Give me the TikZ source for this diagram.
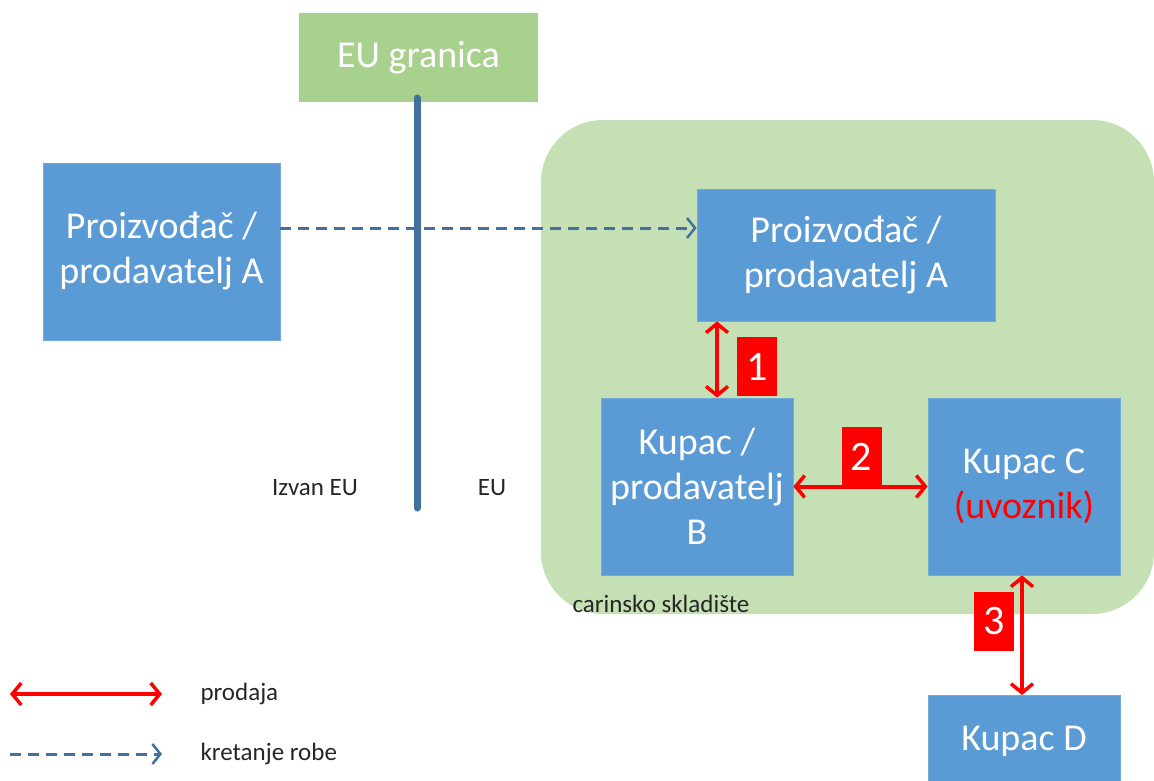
\documentclass[tikz,border=0pt]{standalone}
\usepackage{fontspec}
\setmainfont{Carlito}
\usetikzlibrary{arrows.meta}
\definecolor{boxblue}{HTML}{5B9BD5}
\definecolor{eugreen}{HTML}{A9D18E}
\definecolor{zonegreen}{HTML}{C5E0B4}
\definecolor{borderline}{HTML}{41719C}
\definecolor{salered}{HTML}{FF0000}
\tikzset{
  party/.style={fill=boxblue, draw=boxblue!85!white, line width=0.8pt, text=white, align=center,
    font=\fontsize{38}{45}\selectfont, inner sep=0pt},
  numtag/.style={fill=salered, text=white, minimum width=40pt, minimum height=59pt, inner sep=0pt,
    font=\fontsize{42}{48}\selectfont},
  sale/.style={draw=salered, line width=4pt, {Straight Barb[length=9pt,width=22pt,line width=3.5pt]}-{Straight Barb[length=9pt,width=22pt,line width=3.5pt]}},
  goods/.style={draw=borderline, line width=3pt, dash pattern=on 11pt off 7pt, -{Straight Barb[length=8pt,width=20pt,line width=2.5pt]}},
  small/.style={font=\fontsize{25}{30}\selectfont, text=black!85},
}
\begin{document}
\begin{tikzpicture}[x=1pt,y=-1pt]
\useasboundingbox (0,0) rectangle (1154,780);
% customs warehouse zone
\fill[zonegreen, rounded corners=62pt] (541,120) rectangle (1154,614);
% border label and border line
\node[fill=eugreen, minimum width=239pt, minimum height=89pt, inner sep=0pt, text=white,
  font=\fontsize{38}{45}\selectfont] (granica) at (418.5,57.5) {EU granica};
\coordinate (lineTop) at (417,98);
\coordinate (lineBot) at (417,508);
\draw[borderline, line width=7pt, line cap=round] (lineTop) -- (lineBot);
\node[small, anchor=center] (izvan) at (315,488) {Izvan EU};
\node[small, anchor=center] (eu) at (492,488) {EU};
% parties
\node[party, minimum width=237pt, minimum height=177pt] (A0) at (161.5,251.5) {Proizvođač /\\prodavatelj A};
\node[party, minimum width=298pt, minimum height=132pt] (A) at (846,255) {Proizvođač /\\prodavatelj A};
\node[party, minimum width=192pt, minimum height=177pt] (B) at (697,486.5) {Kupac /\\prodavatelj\\B};
\node[party, minimum width=192pt, minimum height=177pt] (C) at (1024,486.5) {Kupac C\\\textcolor{salered}{(uvoznik)}};
\node[party, minimum width=192pt, minimum height=92pt, anchor=north] (D) at (1024,695) {Kupac D};
\node[small, anchor=west] (zone) at (569,604) {carinsko skladište};
% movement of goods
\draw[goods] (A0.east |- 0,228) -- (A.west |- 0,228);
% sales
\draw[sale] ([xshift=-129pt]A.south) -- ([xshift=20pt]B.north);
\draw[sale] (B.east) -- (C.east -| C.west);
\draw[sale] ([xshift=-2pt]C.south) -- ([xshift=-2pt]D.north);
\node[numtag] (n1) at (757,366.5) {1};
\node[numtag] (n2) at (861.5,456.5) {2};
\node[numtag] (n3) at (994,621.5) {3};
% legend
\coordinate (l1a) at (10,694);
\coordinate (l1b) at (162,694);
\coordinate (l2a) at (10,754);
\coordinate (l2b) at (162,754);
\draw[sale] (l1a) -- (l1b);
\draw[goods] (l2a) -- (l2b);
\node[small, anchor=west] (prodaja) at (197,694) {prodaja};
\node[small, anchor=west] (kretanje) at (197,754) {kretanje robe};
\end{tikzpicture}
\end{document}
